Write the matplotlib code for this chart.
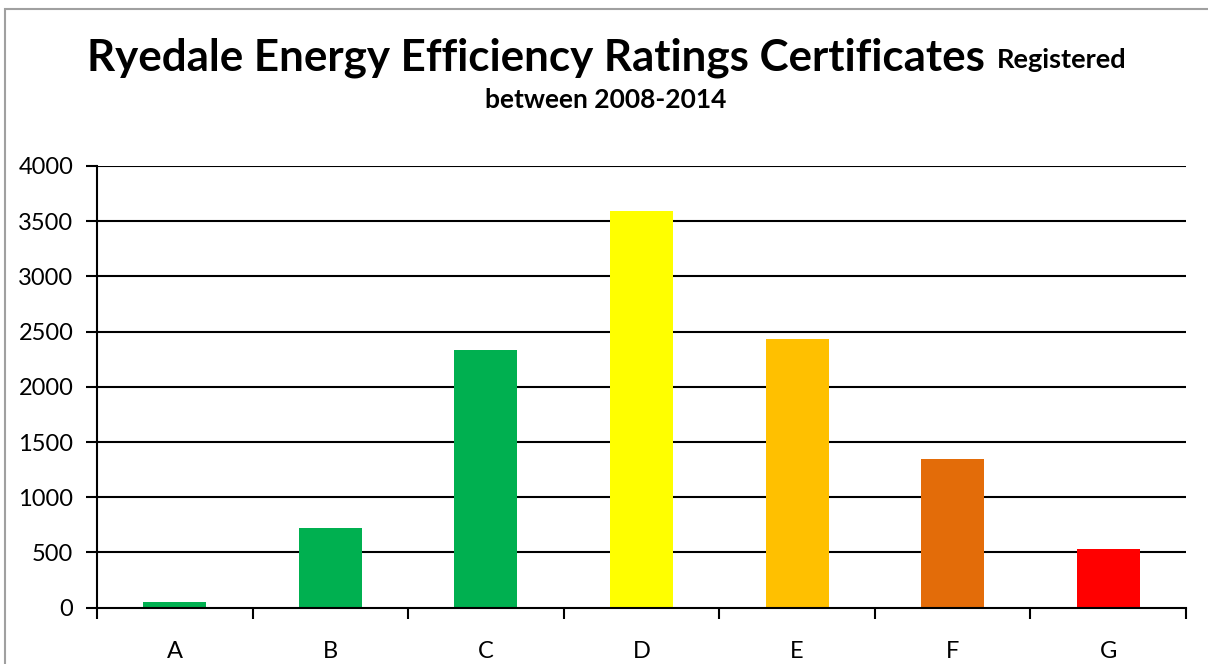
import matplotlib
matplotlib.use("Agg")
import matplotlib.pyplot as plt
from matplotlib.patches import Rectangle

categories = ["A", "B", "C", "D", "E", "F", "G"]
values = [52, 725, 2335, 3593, 2434, 1348, 534]
colors = ["#00B050", "#00B050", "#00B050", "#FFFF00", "#FFC000", "#E36C09", "#FF0000"]
yticks = [0, 500, 1000, 1500, 2000, 2500, 3000, 3500, 4000]

W, H = 1208, 664
fig = plt.figure(figsize=(W / 100, H / 100), dpi=100)
plt.rcParams['font.family'] = ['Lato', 'DejaVu Sans']

# outer border
fig.patches.append(Rectangle((5 / W, -0.1), 1.2, 1 - 9 / H + 0.1, transform=fig.transFigure,
                             fill=False, edgecolor="#A0A0A0", linewidth=1.5))

ax = fig.add_axes([97 / W, 1 - 607.7 / H, (1186 - 97) / W, (607.7 - 166) / H])
x = list(range(len(categories)))
ax.bar(x, values, width=0.405, color=colors, zorder=3)
ax.set_xlim(-0.5, len(categories) - 0.5)
ax.set_ylim(0, 4000)
ax.set_yticks(yticks)
ax.set_yticklabels([str(v) for v in yticks], fontsize=17)
for v in yticks[1:]:
    ax.axhline(v, color="black", linewidth=1.5, zorder=1)
ax.set_xticks(x)
ax.set_xticklabels(categories, fontsize=17)
ax.set_xticks([i - 0.5 for i in range(len(categories) + 1)], minor=True)
ax.tick_params(axis="x", which="major", length=0, pad=24)
ax.tick_params(axis="x", which="minor", length=8, width=1.5, direction="out")
ax.tick_params(axis="y", length=8, width=1.5, direction="out", pad=9)
for s in ["top", "right"]:
    ax.spines[s].set_visible(False)
for s in ["left", "bottom"]:
    ax.spines[s].set_linewidth(1.5)
    ax.spines[s].set_zorder(4)

# title
renderer = fig.canvas.get_renderer()
t1 = fig.text(87 / W, 1 - 70 / H, "Ryedale Energy Efficiency Ratings Certificates",
              fontsize=29, fontweight="bold", ha="left", va="baseline")
bb = t1.get_window_extent(renderer)
target = 985 - 87
t1.set_fontsize(29 * target / bb.width)
bb = t1.get_window_extent(renderer)
fig.text((bb.x1 + 12) / W, 1 - 68 / H, "Registered", fontsize=19.5, fontweight="bold",
         ha="left", va="baseline")
fig.text(606 / W, 1 - 108 / H, "between 2008-2014", fontsize=19, fontweight="bold",
         ha="center", va="baseline")

fig.savefig("out.png", dpi=100)
